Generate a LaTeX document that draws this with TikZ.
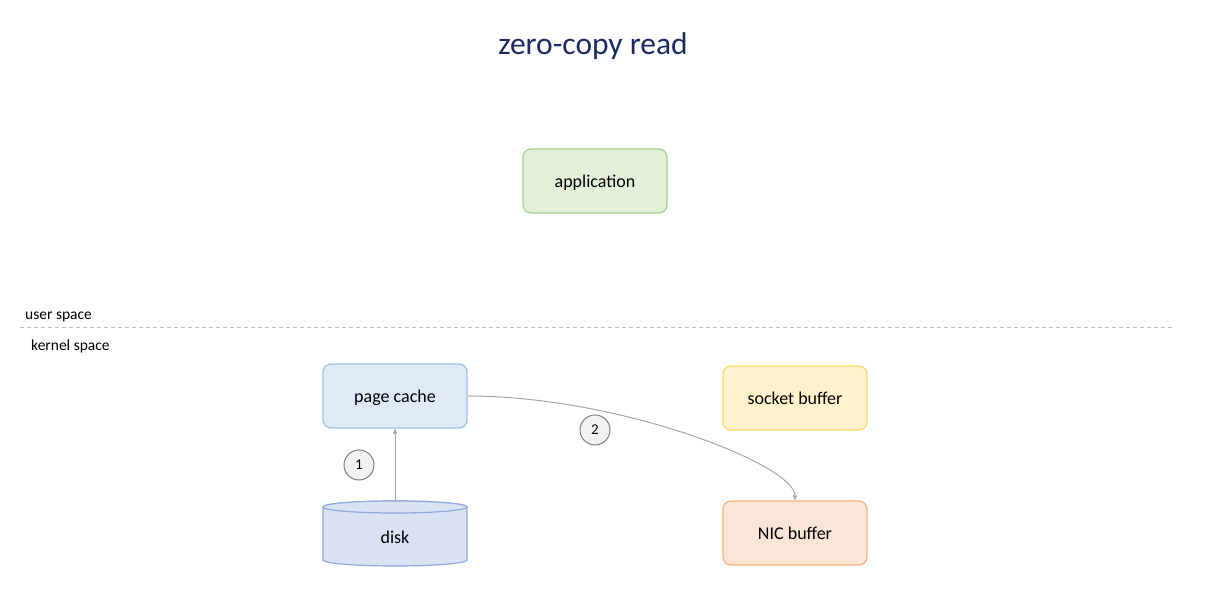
\documentclass[tikz,border=0pt]{standalone}
\usepackage{fontspec}
\setmainfont{Carlito}
\usetikzlibrary{arrows.meta}
\definecolor{titlec}{HTML}{1B2A63}
\definecolor{appfill}{HTML}{E2F0D9}
\definecolor{appdraw}{HTML}{A9D18E}
\definecolor{pcfill}{HTML}{DEEBF7}
\definecolor{pcdraw}{HTML}{9DC3E6}
\definecolor{sbfill}{HTML}{FFF2CC}
\definecolor{sbdraw}{HTML}{FFD966}
\definecolor{nicfill}{HTML}{FBE5D6}
\definecolor{nicdraw}{HTML}{F4B183}
\definecolor{dkfill}{HTML}{DAE3F3}
\definecolor{dkdraw}{HTML}{8FAADC}
\definecolor{circfill}{HTML}{F2F2F2}
\definecolor{circdraw}{HTML}{7F7F7F}
\definecolor{arrc}{HTML}{A6A6A6}
\definecolor{dashc}{HTML}{BFBFBF}
\tikzset{
  box/.style={rectangle, rounded corners=8bp, line width=1.2bp, minimum width=144bp, minimum height=64bp, inner sep=0pt, text height=14bp, text depth=1.2bp, font=\fontsize{18bp}{22bp}\selectfont},
  stepnum/.style={circle, draw=circdraw, fill=circfill, line width=1bp, minimum size=30bp, inner sep=0pt, font=\fontsize{15bp}{17bp}\selectfont},
  conn/.style={draw=arrc, line width=1bp, -{Triangle[length=5bp,width=4bp]}},
  spacelabel/.style={anchor=west, inner sep=0pt, font=\fontsize{15.5bp}{18bp}\selectfont},
}
\begin{document}
\begin{tikzpicture}[x=1bp,y=1bp]
\useasboundingbox (0,0) rectangle (1210,609);
\node[text=titlec, font=\fontsize{31.5bp}{38bp}\selectfont] (title) at (593,563) {zero-copy read};
\node[box, draw=appdraw, fill=appfill] (app) at (595,428) {application};
\node[spacelabel] (user) at (25,292) {user space};
\node[spacelabel] (kernel) at (31,263) {kernel space};
\coordinate (dl) at (20,281);
\coordinate (dr) at (1172,281);
\draw[dashc, line width=1bp, dash pattern=on 4bp off 3bp] (dl) -- (dr);
\node[box, draw=pcdraw, fill=pcfill] (pc) at (395,213) {page cache};
\node[box, draw=sbdraw, fill=sbfill] (sb) at (795,211) {socket buffer};
\node[box, draw=nicdraw, fill=nicfill] (nic) at (795,76) {NIC buffer};
% disk cylinder
\node[rectangle, minimum width=144bp, minimum height=65bp, inner sep=0pt] (disk) at (395,75.5) {};
\draw[draw=dkdraw, fill=dkfill, line width=1.2bp]
  (323,102) -- (323,49) arc[start angle=180, end angle=360, x radius=72, y radius=6]
  -- (467,102) arc[start angle=0, end angle=180, x radius=72, y radius=6] -- cycle;
\draw[draw=dkdraw, fill=dkfill, line width=1.2bp] (395,102) ellipse[x radius=72, y radius=6];
\node[font=\fontsize{18bp}{22bp}\selectfont, text height=14bp, text depth=1.2bp] (disklabel) at (395,72) {disk};
% connectors
\draw[conn] (disk.north) -- (pc.south);
\draw[conn] (pc.east) .. controls (620,213) and (795,144) .. (nic.north);
\node[stepnum] (s1) at (359,144) {1};
\node[stepnum] (s2) at (595,179) {2};
\end{tikzpicture}
\end{document}
